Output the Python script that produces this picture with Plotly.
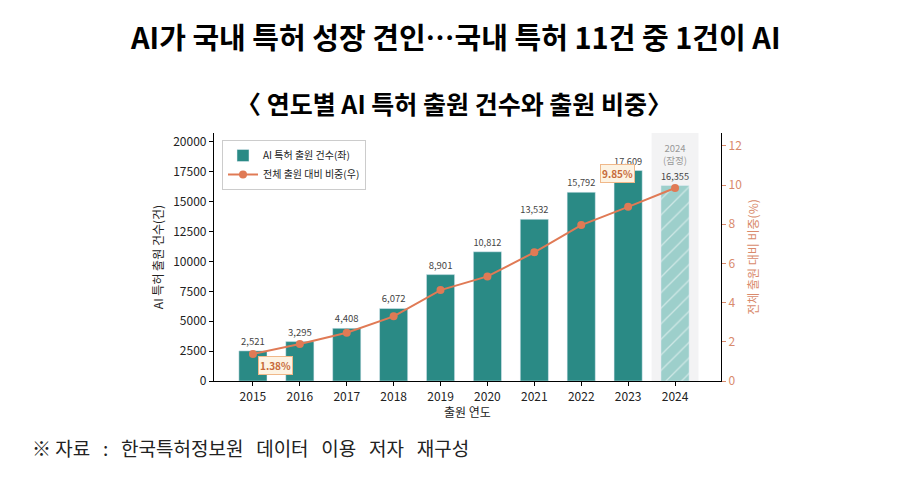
import plotly.graph_objects as go

FONT = "Noto Sans CJK KR"

years = [2015, 2016, 2017, 2018, 2019, 2020, 2021, 2022, 2023, 2024]
patents = [2521, 3295, 4408, 6072, 8901, 10812, 13532, 15792, 17609, 16355]
share = [1.38, 1.89, 2.46, 3.30, 4.64, 5.34, 6.57, 7.96, 8.89, 9.85]
left_ticks = [0, 2500, 5000, 7500, 10000, 12500, 15000, 17500, 20000]
right_ticks = [0, 2, 4, 6, 8, 10, 12]

teal = "#2a8a85"
coral = "#e07a55"
axis_orange = "#d98a6c"

# 페이지 기본 여백(8px)만큼 보정한 플롯 영역 (픽셀)
OFF = 8
W, H = 900, 493
L, R, T, B = 214 - OFF, 721 - OFF, 133 - OFF, 381 - OFF


def py(pixel_y):
    return (B - (pixel_y - OFF)) / (B - T)


def px(pixel_x):
    return ((pixel_x - OFF) - L) / (R - L)


fig = go.Figure()

# 확정 연도 막대
fig.add_trace(go.Bar(
    x=years[:-1], y=patents[:-1], width=0.6,
    marker=dict(color=teal),
    text=[f"{v:,}" for v in patents[:-1]],
    textposition="outside", cliponaxis=False,
    textfont=dict(size=9.5, color="#444444", family=FONT),
    name="AI 특허 출원 건수(좌)",
))
# 2024 잠정치 (빗금)
fig.add_trace(go.Bar(
    x=years[-1:], y=patents[-1:], width=0.6,
    marker=dict(color="#9dcfcb",
                pattern=dict(shape="/", fgcolor="white", bgcolor="#9dcfcb", size=11, solidity=0.12)),
    text=[f"{patents[-1]:,}"],
    textposition="outside", cliponaxis=False,
    textfont=dict(size=9.5, color="#444444", family=FONT),
    showlegend=False,
))
fig.add_trace(go.Scatter(
    x=years, y=share, yaxis="y2", mode="lines+markers",
    line=dict(color=coral, width=2),
    marker=dict(size=8, color=coral),
    name="전체 출원 대비 비중(우)",
))

# 2024 배경 음영
fig.add_shape(type="rect", xref="x", yref="paper", x0=2023.5, x1=2024.5, y0=0, y1=1,
              fillcolor="#f3f3f4", line=dict(width=0), layer="below")

box = dict(showarrow=False, bgcolor="#fdf3e3", bordercolor="#f0b889", borderwidth=1,
           borderpad=1, font=dict(size=10, color="#c76a3a", family=FONT))
fig.add_annotation(x=years[-1], y=share[-1], xref="x", yref="y2",
                   text=f"<b>{share[-1]:.2f}%</b>", xshift=-58, yshift=15, **box)
fig.add_annotation(x=years[0], y=share[0], xref="x", yref="y2",
                   text=f"<b>{share[0]:.2f}%</b>", xshift=23, yshift=-12, **box)
fig.add_annotation(x=2024, y=py(169), xref="x", yref="paper", yanchor="bottom",
                   text="2024<br>(잠정)", showarrow=False,
                   font=dict(size=9.5, color="#999999", family=FONT))

# 제목, 부제, 출처
fig.add_annotation(text="<b>AI가 국내 특허 성장 견인…국내 특허 11건 중 1건이 AI</b>",
                   xref="paper", yref="paper", x=px(455), y=py(36),
                   xanchor="center", yanchor="middle", showarrow=False,
                   font=dict(size=29, color="black", family=FONT))
fig.add_annotation(text="<b>〈 연도별 AI 특허 출원 건수와 출원 비중〉</b>",
                   xref="paper", yref="paper", x=px(454), y=py(103),
                   xanchor="center", yanchor="middle", showarrow=False,
                   font=dict(size=25, color="black", family=FONT))
sp = "\u00a0\u00a0\u00a0"
fig.add_annotation(text=f"※\u00a0자료{sp}:{sp}한국특허정보원{sp}데이터{sp}이용{sp}저자{sp}재구성",
                   xref="paper", yref="paper", x=px(30), y=py(447),
                   xanchor="left", yanchor="middle", showarrow=False,
                   font=dict(size=19, color="#222222", family=FONT))

fig.update_layout(
    width=W, height=H,
    paper_bgcolor="white", plot_bgcolor="white",
    margin=dict(l=L, r=W - R, t=T, b=H - B, autoexpand=False),
    barmode="overlay",
    font=dict(family=FONT, color="#222222"),
    showlegend=True,
    legend=dict(x=px(222), y=py(140), xanchor="left", yanchor="top",
                bgcolor="white", bordercolor="#cccccc", borderwidth=1,
                font=dict(size=10, family=FONT), tracegroupgap=0, itemwidth=30),
    xaxis=dict(range=[2014.17, 2024.98], tickvals=years, ticktext=[str(y) for y in years],
               showline=True, linecolor="black", linewidth=1.2, ticks="outside",
               ticklen=4, tickcolor="black", showgrid=False, zeroline=False, automargin=False,
               tickfont=dict(size=12, color="#222222"),
               title=dict(text="출원 연도", font=dict(size=12), standoff=4)),
    yaxis=dict(range=[0, 20750], tickvals=left_ticks, tickformat="d", showline=True,
               linecolor="black", linewidth=1.2, ticks="outside", ticklen=4, tickcolor="black",
               showgrid=False, zeroline=False, automargin=False,
               tickfont=dict(size=12, color="#222222"),
               title=dict(text="AI 특허 출원 건수(건)", font=dict(size=12), standoff=6)),
    yaxis2=dict(range=[0, 12.66], tickvals=right_ticks, overlaying="y", side="right",
                showline=True, linecolor="black", linewidth=1.2, ticks="outside",
                ticklen=4, tickcolor=axis_orange, showgrid=False, zeroline=False,
                automargin=False, tickfont=dict(size=12, color=axis_orange),
                title=dict(text="전체 출원 대비 비중(%)", font=dict(size=12, color=axis_orange),
                           standoff=8)),
)

fig.write_html("out.html")
